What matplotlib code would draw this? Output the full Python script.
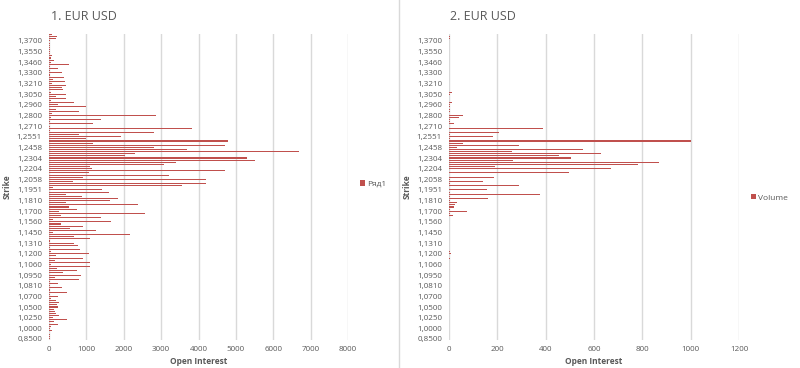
"""
Two Excel-style horizontal bar charts of EUR USD open interest / volume by strike.
"""

import matplotlib.pyplot as plt
from matplotlib.lines import Line2D
import numpy as np

plt.rcParams["font.family"] = ["Open Sans", "DejaVu Sans"]

# Strike labels shown on the axis (every 5th category, bottom to top)
strike_labels = [
    "0,8500", "1,0000", "1,0250", "1,0500", "1,0700", "1,0810", "1,0950",
    "1,1060", "1,1200", "1,1310", "1,1450", "1,1560", "1,1700", "1,1810",
    "1,1951", "1,2058", "1,2204", "1,2304", "1,2458", "1,2551", "1,2710",
    "1,2800", "1,2960", "1,3050", "1,3210", "1,3300", "1,3460", "1,3550",
    "1,3700",
]

# Chart 1: open interest per strike category (bottom to top)
open_interest = [
    40, 40, 40, 0, 90, 20, 60, 250, 140, 470, 110, 280,
    200, 160, 130, 250, 220, 280, 180, 60, 230, 30, 470, 20,
    340, 30, 230, 40, 810, 160, 850, 380, 760, 220, 1110, 60,
    1110, 160, 910, 200, 1070, 60, 830, 40, 780, 670, 40, 1100,
    660, 2180, 110, 1250, 560, 900, 320, 1660, 120, 1380, 320, 2560,
    260, 760, 540, 2380, 450, 1620, 1850, 890, 450, 1610, 1410, 100,
    3560, 4200, 640, 4200, 910, 3200, 1080, 4700, 1150, 1100, 3090, 3410,
    5500, 5300, 2030, 2300, 6700, 3700, 2810, 4700, 1190, 4800, 990, 1920,
    800, 2810, 30, 3820, 40, 1190, 40, 1380, 60, 2860, 80, 790,
    200, 990, 230, 670, 60, 450, 190, 450, 50, 370, 340, 450,
    70, 440, 110, 400, 30, 340, 40, 250, 20, 540, 60, 130,
    50, 80, 30, 20, 20, 30, 40, 40, 30, 180, 220, 90,
]

# Chart 2: volume per strike category (bottom to top)
volume = [
    0, 0, 0, 0, 0, 0, 0, 0, 0, 0, 0, 0,
    0, 0, 0, 0, 0, 0, 0, 0, 0, 0, 0, 0,
    0, 0, 0, 0, 0, 0, 0, 0, 0, 0, 0, 1,
    0, 1, 3, 2, 7, 3, 2, 0, 1, 0, 1, 0,
    0, 1, 0, 1, 0, 1, 0, 0, 2, 0, 18, 3,
    73, 5, 20, 25, 32, 3, 160, 5, 377, 4, 156, 2,
    288, 3, 140, 4, 188, 2, 498, 2, 670, 189, 780, 870,
    266, 505, 455, 630, 260, 556, 32, 288, 59, 1000, 4, 181,
    3, 206, 2, 388, 2, 19, 6, 6, 40, 59, 2, 3,
    4, 3, 6, 12, 2, 2, 1, 3, 11, 2, 1, 1,
    0, 1, 2, 1, 1, 2, 1, 1, 0, 1, 1, 0,
    0, 1, 0, 1, 0, 1, 0, 0, 1, 5, 5, 2,
]

BAR_COLOR = "#c0504d"
TEXT_COLOR = "#595959"
GRID_COLOR = "#d9d9d9"

W, H = 800, 368


def px_box(x0, y0, x1, y1):
    """Convert a pixel box (top-left origin) into figure coordinates."""
    return [x0 / W, 1 - y1 / H, (x1 - x0) / W, (y1 - y0) / H]


def draw_panel(fig, box, values, xmax, xstep, title, title_x, legend_label, legend_y, strike_x):
    ax = fig.add_axes(px_box(*box))
    pos = np.arange(len(values))
    bars = ax.barh(pos, values, height=0.5, color=BAR_COLOR, linewidth=0)

    ax.set_ylim(-0.5, len(values) - 0.5)
    ax.set_xlim(0, xmax)
    ax.set_xticks(np.arange(0, xmax + 1, xstep))
    ax.set_yticks(np.arange(0, len(strike_labels) * 5, 5))
    ax.set_yticklabels(strike_labels)
    ax.tick_params(axis="both", length=0, labelsize=5.8, labelcolor=TEXT_COLOR)
    ax.tick_params(axis="x", pad=4)
    ax.tick_params(axis="y", pad=5)

    ax.grid(axis="x", color=GRID_COLOR, linewidth=1)
    ax.set_axisbelow(True)
    for side in ["top", "right", "bottom", "left"]:
        ax.spines[side].set_visible(False)

    ax.set_xlabel("Open Interest", fontsize=6, fontweight="bold", color=TEXT_COLOR)
    ax.xaxis.set_label_coords(0.5, -0.055)
    ax.set_ylabel("Strike", fontsize=6, fontweight="bold", color=TEXT_COLOR)
    ax.yaxis.set_label_coords((strike_x - box[0]) / (box[2] - box[0]), 0.5)

    fig.text(title_x / W, 1 - 17 / H, title, fontsize=9, color=TEXT_COLOR,
             ha="left", va="center")

    fig.legend([bars], [legend_label], loc="center left",
               bbox_to_anchor=((box[2] + 12) / W, 1 - legend_y / H),
               frameon=False, fontsize=6, labelcolor=TEXT_COLOR,
               handlelength=0.6, handleheight=0.6, handletextpad=0.3,
               borderpad=0, borderaxespad=0)
    return ax


fig = plt.figure(figsize=(8, 3.68), dpi=100)

draw_panel(fig, (49, 33.5, 348, 340), open_interest, 8000, 1000,
           "1. EUR USD", 51, "Ряд1", 184, 12)
draw_panel(fig, (449, 33.5, 739, 340), volume, 1200, 200,
           "2. EUR USD", 450, "Volume", 198, 412)

# border between the two charts
fig.add_artist(Line2D([398.5 / W, 398.5 / W], [0, 1], color=GRID_COLOR, linewidth=1))

fig.savefig("out.png", dpi=100)
plt.close(fig)
